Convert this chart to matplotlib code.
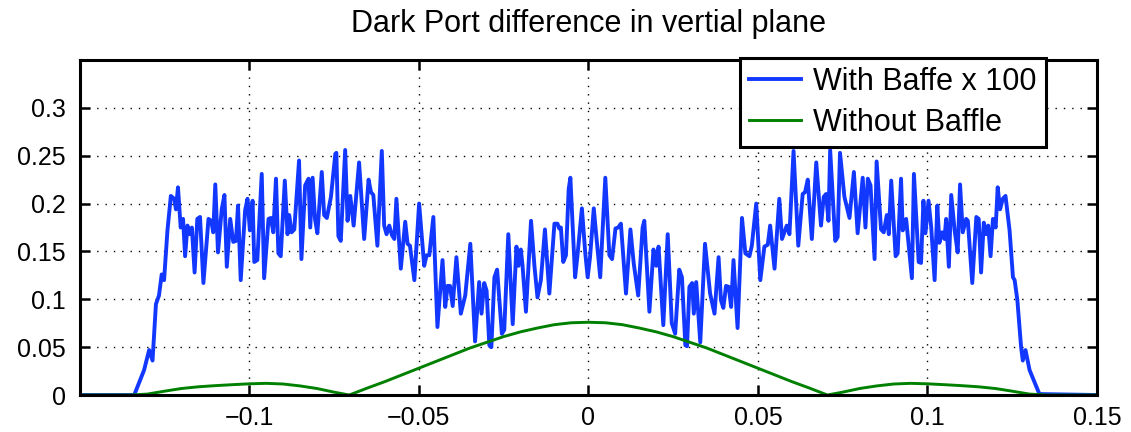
import numpy as np
import matplotlib
matplotlib.use('Agg')
import matplotlib.pyplot as plt

# Dark port difference, vertical plane

blue_x = [-0.1500, -0.1339, -0.1310, -0.1295, -0.1285, -0.1275, -0.1266, -0.1258, -0.1251, -0.1241,
          -0.1231, -0.1221, -0.1216, -0.1210, -0.1202, -0.1195, -0.1189, -0.1182, -0.1175, -0.1169,
          -0.1161, -0.1153, -0.1145, -0.1135, -0.1120, -0.1112, -0.1106, -0.1100, -0.1092, -0.1081,
          -0.1073, -0.1066, -0.1056, -0.1047, -0.1039, -0.1033, -0.1025, -0.1012, -0.1005, -0.0998,
          -0.0990, -0.0985, -0.0976, -0.0963, -0.0956, -0.0943, -0.0936, -0.0929, -0.0921, -0.0914,
          -0.0907, -0.0895, -0.0887, -0.0882, -0.0875, -0.0867, -0.0853, -0.0846, -0.0835, -0.0825,
          -0.0820, -0.0813, -0.0806, -0.0799, -0.0786, -0.0779, -0.0771, -0.0759, -0.0746, -0.0743,
          -0.0737, -0.0730, -0.0717, -0.0710, -0.0702, -0.0692, -0.0676, -0.0661, -0.0648, -0.0641,
          -0.0634, -0.0622, -0.0609, -0.0602, -0.0595, -0.0587, -0.0579, -0.0572, -0.0566, -0.0553,
          -0.0540, -0.0533, -0.0526, -0.0513, -0.0499, -0.0484, -0.0477, -0.0469, -0.0457, -0.0445,
          -0.0430, -0.0422, -0.0415, -0.0408, -0.0400, -0.0389, -0.0376, -0.0363, -0.0348, -0.0334,
          -0.0322, -0.0315, -0.0307, -0.0300, -0.0292, -0.0286, -0.0277, -0.0269, -0.0255, -0.0248,
          -0.0236, -0.0223, -0.0212, -0.0206, -0.0199, -0.0194, -0.0184, -0.0169, -0.0159, -0.0150,
          -0.0140, -0.0128, -0.0115, -0.0100, -0.0091, -0.0086, -0.0081, -0.0074, -0.0066, -0.0058,
          -0.0053, -0.0039, -0.0032, -0.0019, -0.0009, -0.0002, 0.0005, 0.0016, 0.0023, 0.0035,
          0.0050, 0.0062, 0.0070, 0.0080, 0.0088, 0.0096, 0.0111, 0.0124, 0.0134, 0.0147,
          0.0160, 0.0165, 0.0180, 0.0192, 0.0200, 0.0207, 0.0221, 0.0234, 0.0246, 0.0256,
          0.0268, 0.0276, 0.0286, 0.0291, 0.0298, 0.0306, 0.0311, 0.0318, 0.0330, 0.0344,
          0.0359, 0.0372, 0.0384, 0.0391, 0.0398, 0.0406, 0.0414, 0.0421, 0.0428, 0.0440,
          0.0453, 0.0463, 0.0475, 0.0482, 0.0495, 0.0507, 0.0519, 0.0529, 0.0536, 0.0549,
          0.0563, 0.0571, 0.0578, 0.0585, 0.0593, 0.0605, 0.0619, 0.0632, 0.0639, 0.0647,
          0.0659, 0.0672, 0.0686, 0.0694, 0.0701, 0.0708, 0.0713, 0.0728, 0.0735, 0.0742,
          0.0755, 0.0770, 0.0783, 0.0794, 0.0809, 0.0817, 0.0824, 0.0832, 0.0844, 0.0850,
          0.0863, 0.0871, 0.0880, 0.0886, 0.0893, 0.0906, 0.0912, 0.0922, 0.0927, 0.0937,
          0.0954, 0.0960, 0.0974, 0.0981, 0.0988, 0.0994, 0.1003, 0.1011, 0.1021, 0.1029,
          0.1035, 0.1043, 0.1050, 0.1055, 0.1063, 0.1070, 0.1080, 0.1089, 0.1096, 0.1104,
          0.1114, 0.1119, 0.1132, 0.1144, 0.1151, 0.1158, 0.1166, 0.1173, 0.1179, 0.1186,
          0.1193, 0.1201, 0.1207, 0.1214, 0.1222, 0.1230, 0.1242, 0.1252, 0.1257, 0.1265,
          0.1276, 0.1281, 0.1289, 0.1301, 0.1330, 0.1500]

blue_y = [0.000, 0.000, 0.026, 0.047, 0.036, 0.095, 0.104, 0.126, 0.120, 0.172,
          0.208, 0.205, 0.194, 0.217, 0.175, 0.184, 0.145, 0.177, 0.168, 0.175,
          0.128, 0.184, 0.186, 0.117, 0.184, 0.182, 0.170, 0.220, 0.149, 0.194,
          0.209, 0.134, 0.184, 0.160, 0.161, 0.198, 0.120, 0.193, 0.205, 0.172,
          0.203, 0.139, 0.141, 0.231, 0.122, 0.184, 0.185, 0.170, 0.226, 0.148,
          0.145, 0.224, 0.168, 0.188, 0.170, 0.173, 0.245, 0.142, 0.219, 0.226,
          0.175, 0.227, 0.184, 0.169, 0.233, 0.188, 0.185, 0.207, 0.252, 0.253,
          0.166, 0.161, 0.256, 0.182, 0.208, 0.177, 0.243, 0.163, 0.225, 0.212,
          0.209, 0.156, 0.255, 0.177, 0.168, 0.177, 0.167, 0.163, 0.205, 0.132,
          0.181, 0.158, 0.156, 0.120, 0.200, 0.135, 0.146, 0.146, 0.186, 0.071,
          0.141, 0.092, 0.114, 0.114, 0.093, 0.144, 0.085, 0.104, 0.158, 0.056,
          0.118, 0.085, 0.117, 0.109, 0.052, 0.050, 0.123, 0.131, 0.064, 0.068,
          0.168, 0.074, 0.155, 0.135, 0.152, 0.135, 0.087, 0.182, 0.135, 0.102,
          0.120, 0.173, 0.106, 0.179, 0.179, 0.174, 0.175, 0.139, 0.146, 0.215,
          0.227, 0.123, 0.146, 0.195, 0.148, 0.123, 0.144, 0.195, 0.168, 0.123,
          0.227, 0.146, 0.142, 0.174, 0.175, 0.179, 0.106, 0.173, 0.137, 0.104,
          0.175, 0.182, 0.087, 0.152, 0.135, 0.155, 0.073, 0.168, 0.075, 0.064,
          0.131, 0.123, 0.052, 0.051, 0.113, 0.117, 0.085, 0.118, 0.055, 0.158,
          0.106, 0.085, 0.144, 0.099, 0.091, 0.114, 0.113, 0.092, 0.141, 0.070,
          0.185, 0.148, 0.145, 0.156, 0.200, 0.120, 0.155, 0.157, 0.177, 0.132,
          0.205, 0.163, 0.170, 0.177, 0.168, 0.255, 0.156, 0.210, 0.212, 0.225,
          0.163, 0.243, 0.177, 0.207, 0.210, 0.182, 0.256, 0.161, 0.165, 0.253,
          0.207, 0.185, 0.233, 0.169, 0.227, 0.175, 0.226, 0.219, 0.142, 0.244,
          0.173, 0.170, 0.188, 0.168, 0.224, 0.145, 0.148, 0.226, 0.172, 0.184,
          0.122, 0.231, 0.139, 0.138, 0.203, 0.169, 0.203, 0.175, 0.120, 0.198,
          0.159, 0.170, 0.163, 0.184, 0.134, 0.209, 0.172, 0.149, 0.220, 0.170,
          0.184, 0.182, 0.117, 0.186, 0.184, 0.128, 0.180, 0.168, 0.177, 0.145,
          0.184, 0.175, 0.217, 0.194, 0.205, 0.208, 0.172, 0.123, 0.120, 0.099,
          0.050, 0.036, 0.047, 0.026, 0.001, 0.000]

green_x = [-0.150, -0.135, -0.130, -0.125, -0.120, -0.115, -0.110, -0.105, -0.100, -0.095,
           -0.090, -0.085, -0.080, -0.075, -0.0705, -0.065, -0.060, -0.055, -0.050, -0.045,
           -0.040, -0.035, -0.030, -0.025, -0.020, -0.015, -0.010, -0.005, 0.000,
           0.005, 0.010, 0.015, 0.020, 0.025, 0.030, 0.035, 0.040, 0.045, 0.050,
           0.055, 0.060, 0.065, 0.0705, 0.075, 0.080, 0.085, 0.090, 0.095, 0.100,
           0.105, 0.110, 0.115, 0.120, 0.125, 0.130, 0.135, 0.150]
green_y = [0.0, 0.0, 0.001, 0.004, 0.0068, 0.0086, 0.0098, 0.0108, 0.0117, 0.0122,
           0.0115, 0.0095, 0.0068, 0.003, 0.0, 0.0075, 0.014, 0.021, 0.028, 0.035,
           0.042, 0.049, 0.055, 0.061, 0.066, 0.070, 0.0735, 0.0755, 0.076,
           0.0755, 0.0735, 0.070, 0.066, 0.061, 0.055, 0.049, 0.042, 0.035, 0.028,
           0.021, 0.014, 0.0075, 0.0, 0.003, 0.0068, 0.0095, 0.0115, 0.0122, 0.0117,
           0.0108, 0.0098, 0.0086, 0.0068, 0.004, 0.001, 0.0, 0.0]

x_ticks = [-0.1, -0.05, 0, 0.05, 0.1, 0.15]
x_labels = ['\u22120.1', '\u22120.05', '0', '0.05', '0.1', '0.15']
y_ticks = [0, 0.05, 0.1, 0.15, 0.2, 0.25, 0.3]
y_labels = ['0', '0.05', '0.1', '0.15', '0.2', '0.25', '0.3']

plt.rcParams['font.family'] = ['Liberation Sans', 'DejaVu Sans']

fig = plt.figure(figsize=(11.31, 4.32), dpi=100)
ax = fig.add_axes([0.0707, 0.0856, 0.8993, 0.7755])

ax.plot(blue_x, blue_y, color='#1238ff', lw=2.8, label='With Baffe x 100')
ax.plot(green_x, green_y, color='#008000', lw=2.1, label='Without Baffle')

ax.set_xlim(-0.1499, 0.15)
ax.set_ylim(0, 0.35)
ax.set_xticks(x_ticks)
ax.set_xticklabels(x_labels)
ax.set_yticks(y_ticks)
ax.set_yticklabels(y_labels)
ax.tick_params(direction='in', length=7, width=1.8, labelsize=18,
               top=True, right=True)
ax.tick_params(axis='x', pad=8)
ax.tick_params(axis='y', pad=10)
ax.grid(True, color='black', linestyle=(0, (1, 5)), linewidth=1.0)
for s in ax.spines.values():
    s.set_linewidth(2.2)

ax.set_title('Dark Port difference in vertial plane', fontsize=22, pad=20)

leg = ax.legend(loc='upper right', bbox_to_anchor=(0.9495, 1.006), fontsize=22,
                fancybox=False, framealpha=1, edgecolor='black',
                handlelength=1.7, handletextpad=0.4, borderpad=0.3,
                labelspacing=0.35, borderaxespad=0)
leg.get_frame().set_linewidth(2.2)

fig.savefig('out.png', dpi=100)
